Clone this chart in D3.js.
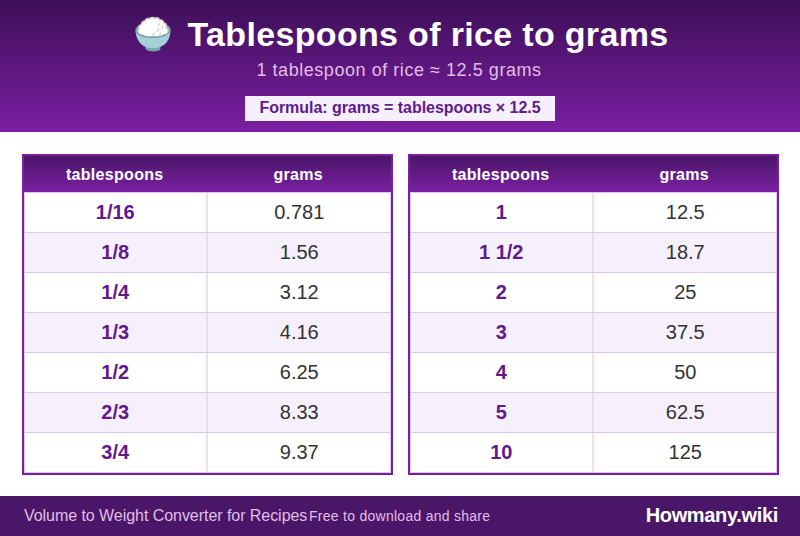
<!DOCTYPE html>
<html>
<head>
<meta charset="utf-8">
<script src="https://cdn.jsdelivr.net/npm/d3@7"></script>
<style>
  html, body { margin: 0; padding: 0; background: #fff; }
  #wrap { position: relative; width: 800px; height: 536px; overflow: hidden; font-family: Arial, "Liberation Sans", sans-serif; }
  svg { display: block; position: absolute; left: 0; top: 0; }
  .label { position: absolute; white-space: nowrap; line-height: 1; }
</style>
</head>
<body>
<div id="wrap"><svg id="chart" width="800" height="536"></svg></div>
<script>
const headers = ['tablespoons', 'grams'];
const spoonsLeft = ['1/16', '1/8', '1/4', '1/3', '1/2', '2/3', '3/4'];
const gramsLeft = ['0.781', '1.56', '3.12', '4.16', '6.25', '8.33', '9.37'];
const spoonsRight = ['1', '1 1/2', '2', '3', '4', '5', '10'];
const gramsRight = ['12.5', '18.7', '25', '37.5', '50', '62.5', '125'];

const purple = '#7b1fa2';
const accent = '#5f1a8c';
const lilac = '#e1bee7';
const rule = '#dcc6ec';

const wrap = d3.select('#wrap');
const svg = d3.select('svg#chart');

// text goes in html so it gets the same hinting as a normal page
const label = (x, y, size, text, colour, bold, anchor = 'middle', spacing = 0) => {
  const el = wrap.append('div').attr('class', 'label')
    .style('top', `${y - size / 2}px`)
    .style('font-size', `${size}px`)
    .style('font-weight', bold ? 700 : 400)
    .style('letter-spacing', `${spacing}px`)
    .style('color', colour)
    .text(text);
  if (anchor === 'middle') el.style('left', `${x - 300}px`).style('width', '600px').style('text-align', 'center');
  if (anchor === 'start') el.style('left', `${x}px`);
  if (anchor === 'end') el.style('right', `${800 - x}px`);
  return el;
};

const defs = svg.append('defs');
const addGradient = (id, from, to) => {
  const g = defs.append('linearGradient').attr('id', id)
    .attr('x1', 0).attr('y1', 0).attr('x2', 0).attr('y2', 1);
  g.append('stop').attr('offset', '0%').attr('stop-color', from);
  g.append('stop').attr('offset', '100%').attr('stop-color', to);
};
addGradient('headGrad', '#3d0f57', purple);
addGradient('thGrad', '#4a1668', purple);

// banner
svg.append('rect').attr('width', 800).attr('height', 132).attr('fill', 'url(#headGrad)');
label(152.5, 34, 32, '🍚', '#fff', true);
label(428, 34, 34, 'Tablespoons of rice to grams', '#fff', true, 'middle', 0.33);
label(399, 70, 18, '1 tablespoon of rice ≈ 12.5 grams', lilac, false, 'middle', 0.55);
svg.append('rect').attr('x', 245).attr('y', 96).attr('width', 310).attr('height', 25).attr('fill', '#f5f0fb');
label(400, 108, 16, 'Formula: grams = tablespoons × 12.5', accent, true, 'middle', -0.05);

const drawTable = (x0, spoons, grams) => {
  const xScale = d3.scaleBand().domain(headers).range([x0 + 2, x0 + 369]);
  const yScale = d3.scaleBand().domain(spoons).range([192, 472]);
  const g = svg.append('g');

  g.append('rect').attr('x', x0 + 2).attr('y', 156).attr('width', 367).attr('height', 36).attr('fill', 'url(#thGrad)');
  headers.forEach(h => label(xScale(h) + xScale.bandwidth() / 2 - 1, 175, 16, h, '#fff', true, 'middle', 0.3));

  g.selectAll('rect.row').data(spoons).join('rect')
    .attr('class', 'row')
    .attr('x', x0 + 2).attr('y', d => yScale(d))
    .attr('width', 367).attr('height', yScale.bandwidth() + 1)
    .attr('fill', (d, i) => i % 2 ? '#f5f0fb' : '#fff');

  // cell borders
  g.selectAll('line.h').data([192, ...spoons.map(d => yScale(d) + yScale.bandwidth())]).join('line')
    .attr('class', 'h')
    .attr('x1', x0 + 2).attr('x2', x0 + 369)
    .attr('y1', d => d + 0.5).attr('y2', d => d + 0.5)
    .attr('stroke', rule);
  g.selectAll('line.v').data([x0 + 2.5, xScale(headers[1]) - 0.5, x0 + 368.5]).join('line')
    .attr('class', 'v')
    .attr('x1', d => d).attr('x2', d => d)
    .attr('y1', 192).attr('y2', 473)
    .attr('stroke', rule);

  spoons.forEach((s, i) => {
    const cy = yScale(s) + yScale.bandwidth() / 2;
    label(xScale(headers[0]) + xScale.bandwidth() / 2 - 0.5, cy, 20, s, accent, true);
    label(xScale(headers[1]) + xScale.bandwidth() / 2, cy, 20, grams[i], '#333', false);
  });

  g.append('rect').attr('x', x0 + 1).attr('y', 155).attr('width', 369).attr('height', 319)
    .attr('fill', 'none').attr('stroke', purple).attr('stroke-width', 2);
};

drawTable(22, spoonsLeft, gramsLeft);
drawTable(408, spoonsRight, gramsRight);

// footer
svg.append('rect').attr('y', 496).attr('width', 800).attr('height', 40).attr('fill', '#4a1668');
label(24, 516, 16, 'Volume to Weight Converter for Recipes', lilac, false, 'start', -0.05);
label(309, 516, 14, 'Free to download and share', lilac, false, 'start', 0.27);
label(778, 515, 20, 'Howmany.wiki', '#fff', true, 'end', -0.33);
</script>
</body>
</html>
